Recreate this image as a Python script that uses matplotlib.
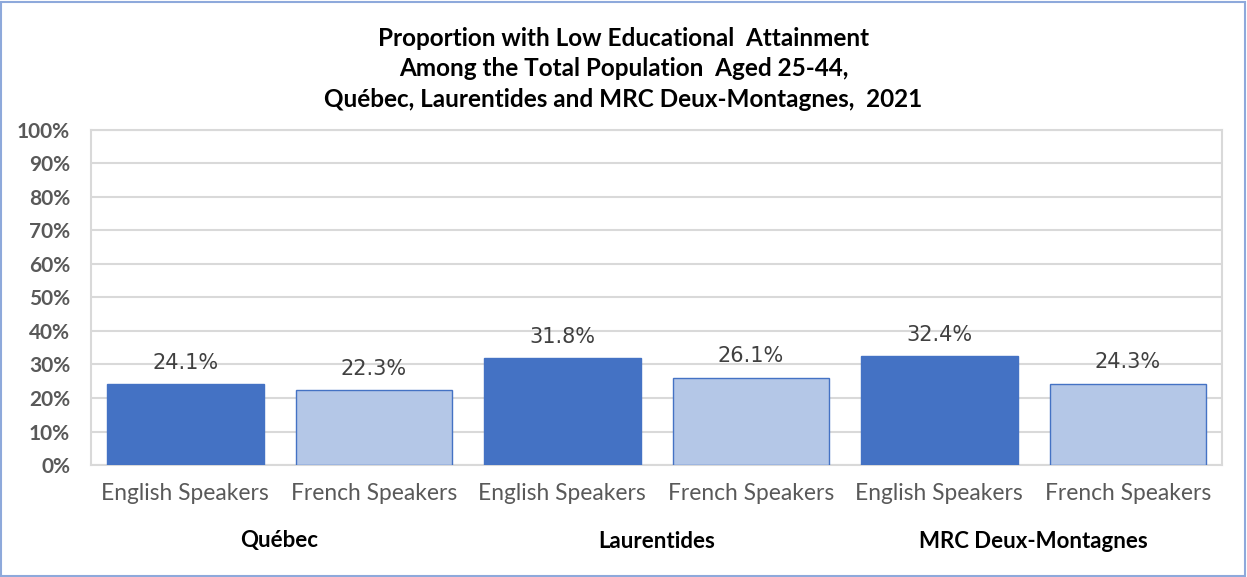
import numpy as np
import matplotlib.pyplot as plt
from matplotlib.patches import Rectangle
from matplotlib.transforms import blended_transform_factory

plt.rcParams['font.family'] = ['Lato', 'DejaVu Sans']

regions = ["Québec", "Laurentides", "MRC Deux-Montagnes"]
speakers = ["English Speakers", "French Speakers"]
values = [24.1, 22.3, 31.8, 26.1, 32.4, 24.3]
colors = ["#4472C4", "#B4C7E7"]

labels = speakers * len(regions)
x = np.arange(len(values))
bar_colors = [colors[i % 2] for i in range(len(values))]

fig = plt.figure(figsize=(12.47, 5.77), dpi=100)
ax = fig.add_axes([0.073, 0.194, 0.907, 0.581])

bars = ax.bar(x, values, width=0.83, color=bar_colors, edgecolor="#4472C4",
              linewidth=1.0, zorder=3)
for b, v in zip(bars, values):
    ax.text(b.get_x() + b.get_width() / 2, v + 3.5, f"{v:.1f}%", ha="center",
            va="bottom", fontsize=15, color="#404040", family="DejaVu Sans")

ax.set_xlim(-0.5, len(values) - 0.5)
ax.set_ylim(0, 100)
ax.set_yticks(np.arange(0, 101, 10))
ax.set_yticklabels([f"{t}%" for t in range(0, 101, 10)], fontsize=15,
                   fontweight="bold", color="#595959")
ax.set_xticks(x)
ax.set_xticklabels(labels, fontsize=16.4, color="#595959")
ax.tick_params(length=0)
ax.tick_params(axis="y", pad=15)
ax.tick_params(axis="x", pad=13)
ax.grid(axis="y", color="#D9D9D9", linewidth=1.5, zorder=0)
for s in ax.spines.values():
    s.set_color("#D9D9D9")
    s.set_linewidth(1.5)

trans = blended_transform_factory(ax.transData, fig.transFigure)
for i, r in enumerate(regions):
    ax.text(2 * i + 0.5, 1 - 541 / 577, r, transform=trans, ha="center",
            va="center", fontsize=16, fontweight="bold", color="black")

fig.text(0.5, 1 - 69 / 577,
         "Proportion with Low Educational  Attainment\n"
         "Among the Total Population  Aged 25-44,\n"
         "Québec, Laurentides and MRC Deux-Montagnes,  2021",
         ha="center", va="center", fontsize=17.5, fontweight="bold",
         linespacing=1.42)

fig.patches.append(Rectangle((0.001, 0.002), 0.997, 0.995, transform=fig.transFigure,
                             fill=False, edgecolor="#8EA9DB", linewidth=1.5))

fig.savefig("out.png", dpi=100)
